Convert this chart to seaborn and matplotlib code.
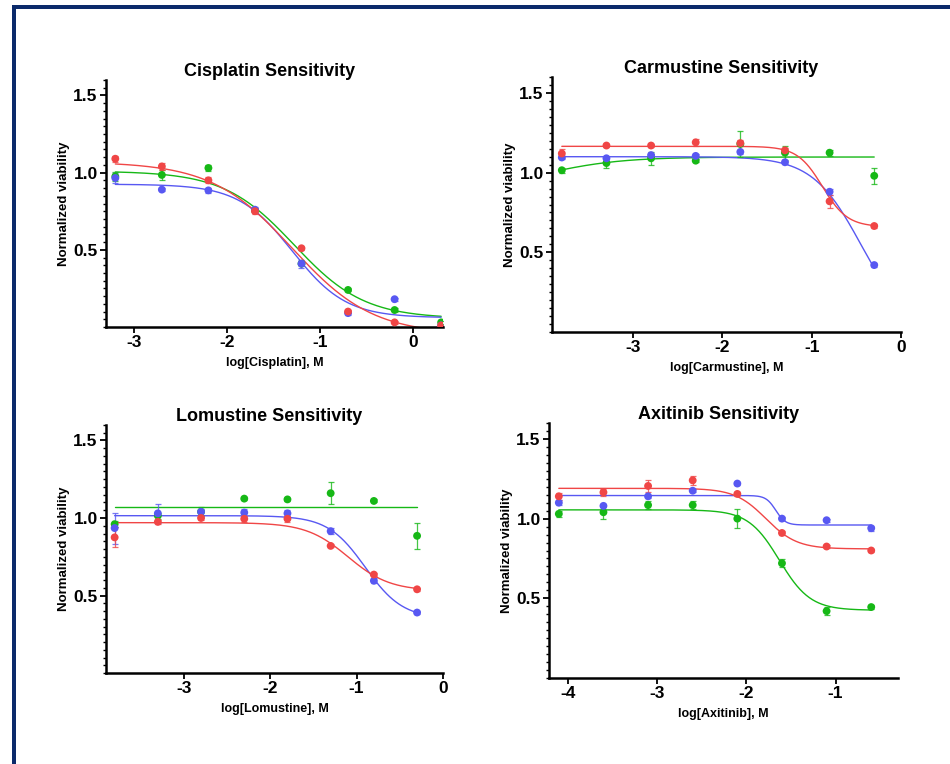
import numpy as np
import pandas as pd
import matplotlib
matplotlib.use('Agg')
import matplotlib.pyplot as plt
import seaborn as sns
from matplotlib.patches import Rectangle
from matplotlib.ticker import MultipleLocator

# colours of the three cell lines
palette = {'red': '#f04646', 'blue': '#5858f2', 'green': '#16b816'}
draw_order = ['green', 'blue', 'red']

# Cisplatin
cis_dose = [-3.2, -2.7, -2.2, -1.7, -1.2, -0.7, -0.2, 0.3]
cis_red = [1.09, 1.04, 0.95, 0.75, 0.51, 0.10, 0.03, 0.01]
cis_blue = [0.965, 0.89, 0.885, 0.76, 0.41, 0.09, 0.18, 0.01]
cis_green = [0.975, 0.985, 1.03, 0.755, 0.41, 0.24, 0.11, 0.03]
cis_red_err = [0.02, 0.02, 0.02, 0.02, 0.01, 0.01, 0.01, 0.005]
cis_blue_err = [0.032, 0.01, 0.015, 0.02, 0.025, 0.01, 0.01, 0.005]
cis_green_err = [0.03, 0.035, 0.02, 0.01, 0.01, 0.01, 0.01, 0.01]

# Carmustine
carm_dose = [-3.8, -3.3, -2.8, -2.3, -1.8, -1.3, -0.8, -0.3]
carm_red = [1.12, 1.17, 1.17, 1.19, 1.185, 1.14, 0.82, 0.665]
carm_blue = [1.095, 1.09, 1.11, 1.105, 1.13, 1.065, 0.88, 0.42]
carm_green = [1.015, 1.06, 1.09, 1.075, 1.18, 1.125, 1.125, 0.98]
carm_red_err = [0.03, 0.01, 0.01, 0.02, 0.02, 0.015, 0.04, 0.01]
carm_blue_err = [0.01, 0.01, 0.01, 0.01, 0.01, 0.01, 0.02, 0.01]
carm_green_err = [0.015, 0.03, 0.04, 0.01, 0.08, 0.045, 0.02, 0.05]

# Lomustine
lom_dose = [-3.8, -3.3, -2.8, -2.3, -1.8, -1.3, -0.8, -0.3]
lom_red = [0.875, 0.975, 1.0, 0.995, 0.995, 0.82, 0.635, 0.54]
lom_blue = [0.935, 1.03, 1.04, 1.035, 1.03, 0.915, 0.595, 0.39]
lom_green = [0.96, 1.015, 1.04, 1.125, 1.12, 1.16, 1.11, 0.885]
lom_red_err = [0.065, 0.015, 0.01, 0.02, 0.02, 0.01, 0.01, 0.01]
lom_blue_err = [0.1, 0.06, 0.02, 0.02, 0.02, 0.02, 0.015, 0.01]
lom_green_err = [0.02, 0.02, 0.03, 0.01, 0.01, 0.072, 0.01, 0.085]

# Axitinib
axi_dose = [-4.1, -3.6, -3.1, -2.6, -2.1, -1.6, -1.1, -0.6]
axi_red = [1.14, 1.165, 1.205, 1.24, 1.155, 0.91, 0.825, 0.80]
axi_blue = [1.10, 1.08, 1.14, 1.175, 1.22, 1.0, 0.99, 0.94]
axi_green = [1.03, 1.04, 1.085, 1.085, 1.0, 0.72, 0.42, 0.445]
axi_red_err = [0.02, 0.02, 0.035, 0.03, 0.01, 0.01, 0.01, 0.01]
axi_blue_err = [0.015, 0.01, 0.01, 0.01, 0.01, 0.01, 0.01, 0.015]
axi_green_err = [0.02, 0.04, 0.025, 0.025, 0.06, 0.025, 0.025, 0.01]

# fitted dose-response parameters: [left plateau, right plateau, logEC50, hill]
cis_red_fit = [1.07, -0.05, -1.30, 1.0]
cis_blue_fit = [0.925, 0.06, -1.30, 1.5]
cis_green_fit = [1.01, 0.055, -1.28, 1.15]
carm_red_fit = [1.165, 0.66, -0.88, 3.1]
carm_blue_fit = [1.10, 0.0, -0.45, 1.6]
carm_green_fit = [0.889, 1.098, -4.0, 1.0]
lom_red_fit = [0.97, 0.53, -1.10, 1.8]
lom_blue_fit = [1.015, 0.35, -0.90, 2.0]
lom_green_fit = [1.073, 1.073, -1.0, 1.0]
axi_red_fit = [1.19, 0.81, -1.78, 2.5]
axi_blue_fit = [1.145, 0.96, -1.67, 8.0]
axi_green_fit = [1.055, 0.425, -1.63, 2.5]

sns.set_theme(style='ticks')
plt.rcParams['font.family'] = ['Liberation Sans', 'DejaVu Sans']
plt.rcParams['font.weight'] = 'bold'
plt.rcParams['axes.labelweight'] = 'bold'
plt.rcParams['axes.titleweight'] = 'bold'
plt.rcParams['axes.unicode_minus'] = False
for key in ['text.color', 'axes.labelcolor', 'xtick.color', 'ytick.color', 'axes.edgecolor']:
    plt.rcParams[key] = 'black'

W, H = 950, 764


def four_pl(x, fit):
    left, right, x0, hill = fit
    return right + (left - right) / (1 + 10 ** ((x - x0) * hill))


def draw_panel(box, title, xlabel, dose, values, errs, fits, xlim, xticks, title_pad):
    left, right, top, bottom = box
    ax = fig.add_axes([left / W, 1 - bottom / H, (right - left) / W, (bottom - top) / H])
    w_px, h_px = right - left, bottom - top

    pts = pd.concat([pd.DataFrame({'x': dose, 'y': values[k], 'line': k}) for k in draw_order])
    grid = np.linspace(dose[0], dose[-1], 400)
    curves = pd.concat([pd.DataFrame({'x': grid, 'y': four_pl(grid, fits[k]), 'line': k})
                        for k in draw_order])

    sns.lineplot(data=curves, x='x', y='y', hue='line', palette=palette, hue_order=draw_order,
                 estimator=None, lw=1.0, legend=False, ax=ax, zorder=2)
    for k in draw_order:
        ax.errorbar(dose, values[k], yerr=errs[k], fmt='none', ecolor=palette[k],
                    elinewidth=0.9, capsize=2.3, capthick=0.9, alpha=0.8, zorder=2.5)
    sns.scatterplot(data=pts, x='x', y='y', hue='line', palette=palette, hue_order=draw_order,
                    s=32, edgecolor='none', legend=False, ax=ax, zorder=3)

    ax.set_xlim(xlim)
    ax.set_ylim(0, 1.6)
    ax.set_xticks(xticks)
    ax.set_yticks([0.5, 1.0, 1.5])
    ax.yaxis.set_minor_locator(MultipleLocator(0.05))
    ax.tick_params(axis='both', which='major', labelsize=12.5, width=1.3, length=4, pad=2)
    ax.tick_params(axis='y', which='minor', width=1.0, length=2.5)
    ax.tick_params(axis='x', which='minor', length=0)
    sns.despine(ax=ax)
    for side in ['left', 'bottom']:
        ax.spines[side].set_linewidth(1.8)

    ax.set_title(title, fontsize=13, pad=title_pad)
    ax.title.set_x(0.5 - 5 / w_px)
    ax.set_xlabel(xlabel, fontsize=9)
    ax.set_ylabel('Normalized viability', fontsize=9.5)
    ax.xaxis.set_label_coords(0.5, -30 / h_px)
    ax.yaxis.set_label_coords(-36 / w_px, 0.5)
    return ax


fig = plt.figure(figsize=(W / 100, H / 100), dpi=100)

draw_panel((106, 443, 80, 327), 'Cisplatin Sensitivity', 'log[Cisplatin], M', cis_dose,
           {'red': cis_red, 'blue': cis_blue, 'green': cis_green},
           {'red': cis_red_err, 'blue': cis_blue_err, 'green': cis_green_err},
           {'red': cis_red_fit, 'blue': cis_blue_fit, 'green': cis_green_fit},
           (-3.3, 0.32), [-3, -2, -1, 0], 2.2)

draw_panel((552, 901, 77, 332), 'Carmustine Sensitivity', 'log[Carmustine], M', carm_dose,
           {'red': carm_red, 'blue': carm_blue, 'green': carm_green},
           {'red': carm_red_err, 'blue': carm_blue_err, 'green': carm_green_err},
           {'red': carm_red_fit, 'blue': carm_blue_fit, 'green': carm_green_fit},
           (-3.91, 0.0), [-3, -2, -1, 0], -1.5)

draw_panel((106, 443, 425, 673), 'Lomustine Sensitivity', 'log[Lomustine], M', lom_dose,
           {'red': lom_red, 'blue': lom_blue, 'green': lom_green},
           {'red': lom_red_err, 'blue': lom_blue_err, 'green': lom_green_err},
           {'red': lom_red_fit, 'blue': lom_blue_fit, 'green': lom_green_fit},
           (-3.9, 0.0), [-3, -2, -1, 0], 1.7)

draw_panel((549, 898, 423, 678), 'Axitinib Sensitivity', 'log[Axitinib], M', axi_dose,
           {'red': axi_red, 'blue': axi_blue, 'green': axi_green},
           {'red': axi_red_err, 'blue': axi_blue_err, 'green': axi_green_err},
           {'red': axi_red_fit, 'blue': axi_blue_fit, 'green': axi_green_fit},
           (-4.21, -0.3), [-4, -3, -2, -1], -1.5)

# navy frame on the left and top edges
navy = '#0b2a6b'
fig.add_artist(Rectangle((12 / W, 0), 4 / W, (H - 5) / H, transform=fig.transFigure,
                         facecolor=navy, edgecolor='none'))
fig.add_artist(Rectangle((12 / W, (H - 9) / H), (W - 12) / W, 4 / H, transform=fig.transFigure,
                         facecolor=navy, edgecolor='none'))

fig.savefig('out.png', dpi=100)
